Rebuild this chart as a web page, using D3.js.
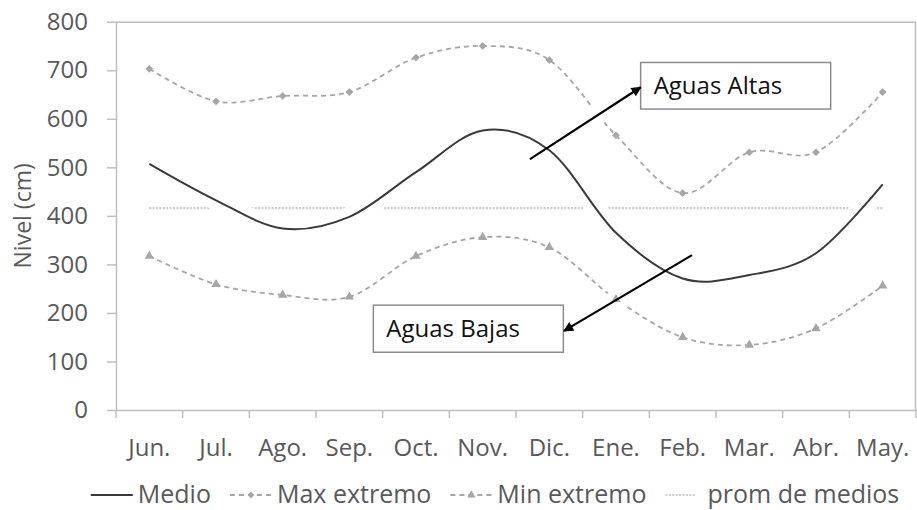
<!DOCTYPE html>
<html>
<head>
<meta charset="utf-8">
<script src="https://cdn.jsdelivr.net/npm/d3@7"></script>
<style>
    body { margin: 0; background: #fff; }
    svg { display: block; font-family: "Open Sans", Lato, sans-serif; }
</style>
</head>
<body>
<svg id="chart"></svg>
<script>
// values
const months = ["Jun.", "Jul.", "Ago.", "Sep.", "Oct.", "Nov.", "Dic.", "Ene.", "Feb.", "Mar.", "Abr.", "May."];
const medio = [507, 432, 374, 398, 490, 576, 535, 365, 271, 278, 323, 465];
const maxExtremo = [703, 636, 647, 655, 726, 750, 721, 566, 447, 531, 531, 655];
const minExtremo = [317, 259, 237, 233, 317, 356, 335, 228, 150, 134, 168, 256];
const promMedios = [416, 416, 416, 416, 416, 416, 416, 416, 416, 416, 416, 416];
const yTicks = [0, 100, 200, 300, 400, 500, 600, 700, 800];
const seriesNames = ["Medio", "Max extremo", "Min extremo", "prom de medios"];

// annotation anchors in data units: [monthIndex, value]
const notes = [
    { label: "Aguas Altas", from: [7.37, 716], to: [10.22, 620], arrowStart: [5.71, 517], arrowEnd: [7.37, 665] },
    { label: "Aguas Bajas", from: [3.36, 216], to: [6.21, 119], arrowStart: [8.14, 319], arrowEnd: [6.22, 163] }
];

const W = 917, H = 510;
const margin = { top: 21.7, right: 1, bottom: 100, left: 116 };
const width = W - margin.left - margin.right;
const height = H - margin.top - margin.bottom;

const axisColor = "#bfbfbf";
const textColor = "#595959";
const extremeColor = "#a6a6a6";
const fontSize = 24;

const svg = d3.select("#chart").attr("width", W).attr("height", H);

const x = d3.scaleBand().domain(months).range([margin.left, margin.left + width]);
const xi = d3.scaleLinear().domain([0, 1]).range([x(months[0]) + x.bandwidth() / 2, x(months[1]) + x.bandwidth() / 2]);
const y = d3.scaleLinear().domain([0, 800]).range([margin.top + height, margin.top]);

const line = d3.line()
    .x((d, i) => x(months[i]) + x.bandwidth() / 2)
    .y(d => y(d))
    .curve(d3.curveCardinal);

const defs = svg.append("defs");

defs.append("marker")
    .attr("id", "arrowhead")
    .attr("markerUnits", "userSpaceOnUse")
    .attr("viewBox", "0 0 10 10")
    .attr("refX", 9).attr("refY", 5)
    .attr("markerWidth", 11).attr("markerHeight", 10)
    .attr("orient", "auto")
    .append("path")
    .attr("d", "M0,0 L10,5 L0,10 Z")
    .attr("fill", "#000");

// white halo that the medio line and the arrows cut into the thin lines
const mask = defs.append("mask").attr("id", "halo").attr("maskUnits", "userSpaceOnUse")
    .attr("x", 0).attr("y", 0).attr("width", W).attr("height", H);
mask.append("rect").attr("width", W).attr("height", H).attr("fill", "#fff");
mask.append("path").attr("d", line(medio)).attr("fill", "none").attr("stroke", "#000").attr("stroke-width", 20);
notes.forEach(n => {
    mask.append("line")
        .attr("x1", xi(n.arrowStart[0])).attr("y1", y(n.arrowStart[1]))
        .attr("x2", xi(n.arrowEnd[0])).attr("y2", y(n.arrowEnd[1]))
        .attr("stroke", "#000").attr("stroke-width", 20);
});

// frame
svg.append("line")
    .attr("x1", margin.left + width - 0.5).attr("x2", margin.left + width - 0.5)
    .attr("y1", margin.top).attr("y2", margin.top + height)
    .attr("stroke", axisColor).attr("stroke-width", 1.5);

// y axis
const yAxis = svg.append("g")
    .attr("transform", `translate(${margin.left}, 0)`)
    .call(d3.axisLeft(y).tickValues(yTicks).tickSize(9).tickPadding(19).tickSizeOuter(0))
    .attr("font-family", null).attr("font-size", fontSize);
yAxis.select(".domain").attr("stroke", axisColor).attr("stroke-width", 1.5);
yAxis.selectAll(".tick line").attr("stroke", axisColor).attr("stroke-width", 1.5);
yAxis.selectAll(".tick text").attr("fill", textColor);
// top border continues from the 800 tick
yAxis.select(".tick:last-of-type line").attr("x2", width).attr("x1", -9);

// x axis
const xAxis = svg.append("g")
    .attr("transform", `translate(0, ${margin.top + height})`)
    .call(d3.axisBottom(x).tickSize(0).tickSizeOuter(0))
    .attr("font-family", null).attr("font-size", fontSize);
xAxis.select(".domain").attr("stroke", axisColor).attr("stroke-width", 1.5);
xAxis.selectAll(".tick text")
    .attr("fill", textColor)
    .attr("y", 46).attr("dy", 0);
xAxis.selectAll(".boundary")
    .data(d3.range(months.length + 1))
    .join("line")
    .attr("x1", i => margin.left + i * x.step()).attr("x2", i => margin.left + i * x.step())
    .attr("y1", 0).attr("y2", 8)
    .attr("stroke", axisColor).attr("stroke-width", 1.5);

svg.append("text")
    .attr("transform", `translate(31, ${margin.top + height / 2}) rotate(-90)`)
    .attr("text-anchor", "middle")
    .attr("fill", textColor).attr("font-size", 23)
    .text("Nivel (cm)");

// series
const plot = svg.append("g");

plot.append("path")
    .attr("d", line(promMedios))
    .attr("fill", "none").attr("stroke", "#cccccc").attr("stroke-width", 2.2)
    .attr("stroke-dasharray", "2,1.4")
    .attr("mask", "url(#halo)");

[[maxExtremo, d3.symbolDiamond2], [minExtremo, d3.symbolTriangle]].forEach(([vals, shape]) => {
    plot.append("path")
        .attr("d", line(vals))
        .attr("fill", "none").attr("stroke", extremeColor).attr("stroke-width", 1.8)
        .attr("stroke-dasharray", "5,4")
        .attr("mask", "url(#halo)");
    plot.selectAll(null)
        .data(vals)
        .join("path")
        .attr("transform", (d, i) => `translate(${x(months[i]) + x.bandwidth() / 2}, ${y(d)})`)
        .attr("d", d3.symbol(shape, 38))
        .attr("fill", extremeColor);
});

plot.append("path")
    .attr("d", line(medio))
    .attr("fill", "none").attr("stroke", "#3a3a3a").attr("stroke-width", 2);

// annotations
notes.forEach(n => {
    const x0 = xi(n.from[0]), y0 = y(n.from[1]), x1 = xi(n.to[0]), y1 = y(n.to[1]);
    svg.append("rect")
        .attr("x", x0).attr("y", y0).attr("width", x1 - x0).attr("height", y1 - y0)
        .attr("fill", "#fff").attr("stroke", "#8c8c8c").attr("stroke-width", 1.5);
    svg.append("text")
        .attr("x", x0 + 13).attr("y", (y0 + y1) / 2)
        .attr("dy", "0.35em")
        .attr("font-size", 24).attr("fill", "#111")
        .text(n.label);
    svg.append("line")
        .attr("x1", xi(n.arrowStart[0])).attr("y1", y(n.arrowStart[1]))
        .attr("x2", xi(n.arrowEnd[0])).attr("y2", y(n.arrowEnd[1]))
        .attr("stroke", "#000").attr("stroke-width", 2.2)
        .attr("marker-end", "url(#arrowhead)");
});

// legend
const legend = svg.append("g");
let cursor = 0;
seriesNames.forEach((name, k) => {
    const item = legend.append("g").attr("transform", `translate(${cursor}, 0)`);
    const sample = item.append("line").attr("x1", 0).attr("x2", 42).attr("y1", -8).attr("y2", -8);
    if (k === 0) sample.attr("stroke", "#3a3a3a").attr("stroke-width", 2);
    if (k === 1 || k === 2) {
        sample.attr("stroke", extremeColor).attr("stroke-width", 1.8).attr("stroke-dasharray", "5,4");
        item.append("path")
            .attr("transform", "translate(21, -8)")
            .attr("d", d3.symbol(k === 1 ? d3.symbolDiamond2 : d3.symbolTriangle, 30))
            .attr("fill", extremeColor);
    }
    if (k === 3) sample.attr("x2", 30).attr("stroke", "#cccccc").attr("stroke-width", 2).attr("stroke-dasharray", "2,1.4");
    const label = item.append("text")
        .attr("x", k === 3 ? 42 : 47)
        .attr("fill", textColor).attr("font-size", 25)
        .text(name);
    cursor += (k === 3 ? 42 : 47) + label.node().getComputedTextLength() + 19;
});
const legendWidth = cursor - 19;
legend.attr("transform", `translate(${495 - legendWidth / 2}, ${H - 7})`);
</script>
</body>
</html>
